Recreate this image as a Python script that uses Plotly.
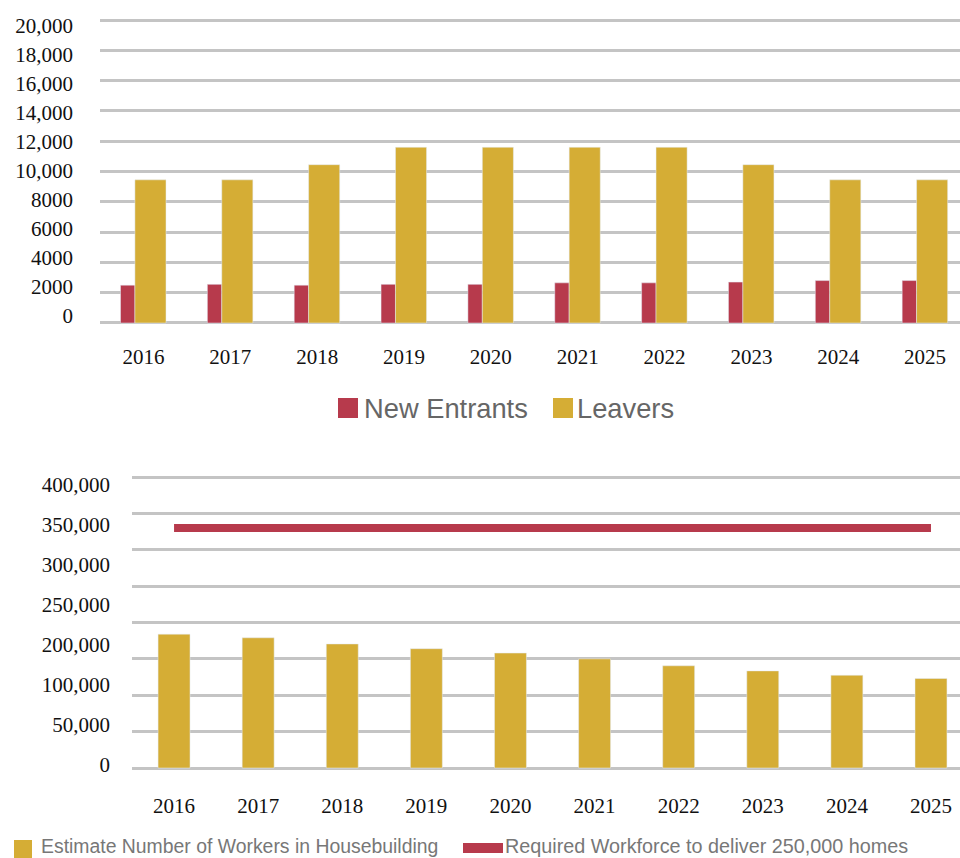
import plotly.graph_objects as go

# data
years = ["2016", "2017", "2018", "2019", "2020", "2021", "2022", "2023", "2024", "2025"]
new_entrants = [2500, 2550, 2500, 2550, 2550, 2650, 2650, 2700, 2800, 2800]
leavers = [9450, 9450, 10450, 11600, 11600, 11600, 11600, 10450, 9450, 9450]
flow_tick_text = ["0", "2000", "4000", "6000", "8000", "10,000", "12,000",
                  "14,000", "16,000", "18,000", "20,000"]

workers = [184000, 179000, 170500, 164000, 158000, 150000, 140500, 133500, 127500, 123000]
required = [330000, 330000, 330000, 330000, 330000, 330000, 330000, 330000, 330000, 330000]
workforce_tick_text = ["0", "50,000", "100,000", "200,000", "250,000",
                       "300,000", "350,000", "400,000"]

RED = "#b73a4c"
GOLD = "#d5ad35"
GRID = "#c4c4c4"
W, H = 960, 858
SERIF = "Liberation Serif, Times New Roman, serif"
SANS = "Liberation Sans, Arial, sans-serif"


def px(x):
    return x / W


def py(y):
    return 1 - y / H


fig = go.Figure()

# top chart: flows in and out of the workforce
fig.add_trace(go.Bar(
    x=years, y=new_entrants, name="New Entrants", marker_color=RED,
    offset=-0.264, width=0.166, xaxis="x", yaxis="y", showlegend=False,
))
fig.add_trace(go.Bar(
    x=years, y=leavers, name="Leavers", marker_color=GOLD,
    offset=-0.098, width=0.358, xaxis="x", yaxis="y", showlegend=False,
))

# bottom chart: workforce size vs requirement
fig.add_trace(go.Bar(
    x=years, y=workers, name="Estimate Number of Workers in Housebuilding",
    marker_color=GOLD, width=0.38, xaxis="x2", yaxis="y2", showlegend=False,
))
fig.add_trace(go.Scatter(
    x=years, y=required, mode="lines",
    name="Required Workforce to deliver 250,000 homes",
    line=dict(color=RED, width=8), xaxis="x2", yaxis="y2", showlegend=False,
))

tick_font = dict(family=SERIF, size=21, color="#111111")

# pixel layout of the two plot areas (small pad so edge gridlines are drawn)
top_px, base_px, pad1 = 20, 323, 300
top2_px, base2_px, pad2 = 477, 768, 5000
pad1_px = pad1 * (base_px - top_px) / 20000
pad2_px = pad2 * (base2_px - top2_px) / 400000

# the tick labels are spaced evenly but not exactly on the gridlines
flow_ticks = [500 + i * 1915 for i in range(len(flow_tick_text))]
workforce_ticks = [4000 + i * 55000 for i in range(len(workforce_tick_text))]

grid_minor = dict(tickmode="linear", tick0=0, showgrid=True,
                  gridcolor=GRID, gridwidth=3, ticks="")

fig.update_layout(
    width=W, height=H,
    margin=dict(l=0, r=0, t=0, b=0),
    paper_bgcolor="white", plot_bgcolor="white",
    barmode="overlay",
    xaxis=dict(
        domain=[px(100), 1], anchor="y", type="category", range=[-0.5, 9.402],
        showgrid=False, zeroline=False, showline=False, automargin=False,
        ticks="", ticklabelstandoff=14, tickfont=tick_font,
    ),
    yaxis=dict(
        domain=[py(base_px + pad1_px), py(top_px - pad1_px)], anchor="x",
        range=[-pad1, 20000 + pad1], automargin=False,
        tickvals=flow_ticks, ticktext=flow_tick_text,
        showgrid=False, zeroline=False,
        minor=dict(grid_minor, dtick=2000),
        ticks="", ticklabelstandoff=26, tickfont=tick_font,
    ),
    xaxis2=dict(
        domain=[px(132), 1], anchor="y2", type="category", range=[-0.5, 9.345],
        showgrid=False, zeroline=False, showline=False, automargin=False,
        ticks="", ticklabelstandoff=19, tickfont=tick_font,
    ),
    yaxis2=dict(
        domain=[py(base2_px + pad2_px), py(top2_px - pad2_px)], anchor="x2",
        range=[-pad2, 400000 + pad2], automargin=False,
        tickvals=workforce_ticks, ticktext=workforce_tick_text,
        showgrid=False, zeroline=False,
        minor=dict(grid_minor, dtick=50000),
        ticks="", ticklabelstandoff=21, tickfont=tick_font,
    ),
)


# legends
def swatch(x0, y0, x1, y1, color):
    fig.add_shape(type="rect", xref="paper", yref="paper",
                  x0=px(x0), x1=px(x1), y0=py(y1), y1=py(y0),
                  fillcolor=color, line_width=0)


def label(x, y, text, size, color, anchor="middle"):
    fig.add_annotation(x=px(x), y=py(y), xref="paper", yref="paper",
                       text=text, showarrow=False, xanchor="left", yanchor=anchor,
                       borderpad=0, font=dict(family=SANS, size=size, color=color))


swatch(338, 398, 358, 418, RED)
label(363, 408, "New Entrants", 27.3, "#666666")
swatch(553, 398, 573, 418, GOLD)
label(576, 408, "Leavers", 27.3, "#666666")

swatch(14, 840, 32, 858, GOLD)
label(40, 858, "Estimate Number of Workers in Housebuilding", 19.4, "#777777", "bottom")
swatch(463, 843, 503, 853, RED)
label(504, 858, "Required Workforce to deliver 250,000 homes", 19.8, "#777777", "bottom")

fig.write_html("out.html", config={"displayModeBar": False},
               post_script="document.body.style.margin = '0';")
